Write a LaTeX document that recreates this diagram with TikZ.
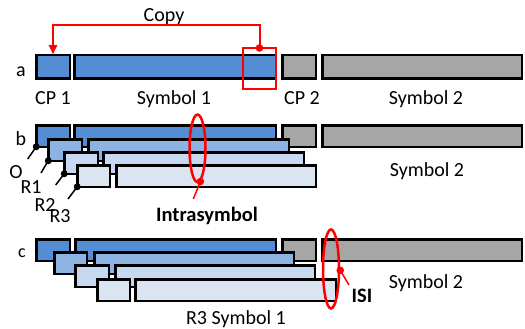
\documentclass[tikz,border=0pt]{standalone}
\usepackage{fontspec}
\setmainfont{Carlito}
\usetikzlibrary{shapes.geometric,arrows.meta,calc}
\definecolor{blzero}{HTML}{548DD4}
\definecolor{blone}{HTML}{8DB3E2}
\definecolor{bltwo}{HTML}{C6D9F1}
\definecolor{blthree}{HTML}{DBE5F1}
\definecolor{grbox}{HTML}{A6A6A6}
\newcommand{\mkbox}[6]{\node[sbox, fill=#6, minimum width={(#4-#2-2.5)*1pt}, minimum height={(#5-#3-2.5)*1pt}] (#1) at (#2+1.25,#3+1.25) {};}
\begin{document}
\begin{tikzpicture}[x=1pt,y=-1pt,
  sbox/.style={draw=black, line width=2.5pt, inner sep=0pt, outer sep=0pt, anchor=north west},
  lbl/.style={inner sep=0pt, anchor=base, font=\fontsize{20}{22}\selectfont},
  boldlbl/.style={inner sep=0pt, anchor=base, font=\fontsize{20.5}{22}\selectfont\bfseries},
  rowlbl/.style={inner sep=0pt, anchor=base, font=\fontsize{20}{22}\selectfont},
  redring/.style={ellipse, draw=red, line width=2.5pt, inner sep=0pt},
  pinline/.style={red, line width=1.5pt},
  tapline/.style={black, line width=1.5pt}]
\useasboundingbox (0,0) rectangle (525,329);
% ---------- row a
\mkbox{acpone}{35}{54}{71}{80}{blzero}
\mkbox{asone}{73}{54}{277}{80}{blzero}
\mkbox{acptwo}{281}{54}{317}{80}{grbox}
\mkbox{astwo}{321}{54}{523}{80}{grbox}
\node[draw=red, line width=2pt, inner sep=0pt, outer sep=0pt, anchor=north west,
      minimum width=33pt, minimum height=41pt] (copyrect) at (243,48) {};
\coordinate (cy) at (164,25);
\node[lbl] (copy) at (164,22) {Copy};
\draw[red, line width=2pt, -{Triangle[length=9pt,width=8pt]}, shorten >=1pt]
  (copyrect.north) |- (cy) -| (acpone.north);
\fill[red] (copyrect.north) circle (3.8pt);
\node[rowlbl] (la) at (21,77) {a};
\node[lbl] (lcp1) at (53,104) {CP 1};
\node[lbl] (lsy1) at (174,104) {Symbol 1};
\node[lbl] (lcp2) at (302,104) {CP 2};
\node[lbl] (lsy2) at (426,104) {Symbol 2};
% ---------- row b
\mkbox{bcptwo}{281}{124}{317}{148}{grbox}
\mkbox{bstwo}{321}{124}{523}{148}{grbox}
\mkbox{bcpz}{35}{124}{71}{148}{blzero}
\mkbox{bsz}{73}{124}{277}{148}{blzero}
\mkbox{bcpa}{47}{138}{83}{162}{blone}
\mkbox{bsa}{87}{138}{290}{162}{blone}
\mkbox{bcpb}{63}{151}{99}{175}{bltwo}
\mkbox{bsb}{102}{151}{305}{175}{bltwo}
\mkbox{bcpc}{76}{164}{111}{188}{blthree}
\mkbox{bsc}{115}{164}{317}{188}{blthree}
\coordinate (tz) at (27.7,159);
\coordinate (ta) at (41,173);
\coordinate (tb) at (55.7,185);
\coordinate (tc) at (68,199);
\foreach \n/\t in {bcpz/tz,bcpa/ta,bcpb/tb,bcpc/tc}{
  \draw[tapline] (\n.south west) -- (\t);
  \fill (\n.south west) circle (3.5pt);
}
\node[rowlbl] (lb) at (21,145) {b};
\node[lbl] (lo) at (16,178) {O};
\node[lbl] (lr1) at (31,193) {R1};
\node[lbl] (lr2) at (45,211) {R2};
\node[lbl] (lr3) at (60,222) {R3};
\node[lbl] (lsy2b) at (427,176) {Symbol 2};
\node[redring, minimum width=16pt, minimum height=67.5pt] (eintra) at (197.5,148.3) {};
\coordinate (pintra) at (193.3,199);
\draw[pinline] (eintra.-85) -- (pintra);
\fill[red] (eintra.-85) circle (3.8pt);
\node[boldlbl] (lintra) at (207,221) {Intrasymbol};
% ---------- row c
\mkbox{ccptwo}{281}{238}{317}{262}{grbox}
\mkbox{cstwo}{321}{238}{523}{262}{grbox}
\mkbox{ccpz}{35}{238}{71}{262}{blzero}
\mkbox{csz}{74}{238}{277}{262}{blzero}
\mkbox{ccpa}{53}{251}{88}{275}{blone}
\mkbox{csa}{93}{251}{295}{275}{blone}
\mkbox{ccpb}{74}{264}{110}{288}{bltwo}
\mkbox{csb}{114}{264}{316}{288}{bltwo}
\mkbox{ccpc}{96}{278}{131}{302}{blthree}
\mkbox{csc}{134}{278}{337}{302}{blthree}
\node[rowlbl, font=\fontsize{18}{20}\selectfont] (lc) at (22,257) {c};
\node[redring, minimum width=16pt, minimum height=79pt] (eisi) at (331,269) {};
\coordinate (pisi) at (349,285);
\draw[pinline] (eisi.-8) -- (pisi);
\fill[red] (eisi.-8) circle (3.8pt);
\node[boldlbl] (lisi) at (362,302) {ISI};
\node[lbl] (lsy2c) at (426,288) {Symbol 2};
\node[lbl] (lr3s1) at (236,324) {R3 Symbol 1};
\end{tikzpicture}
\end{document}
